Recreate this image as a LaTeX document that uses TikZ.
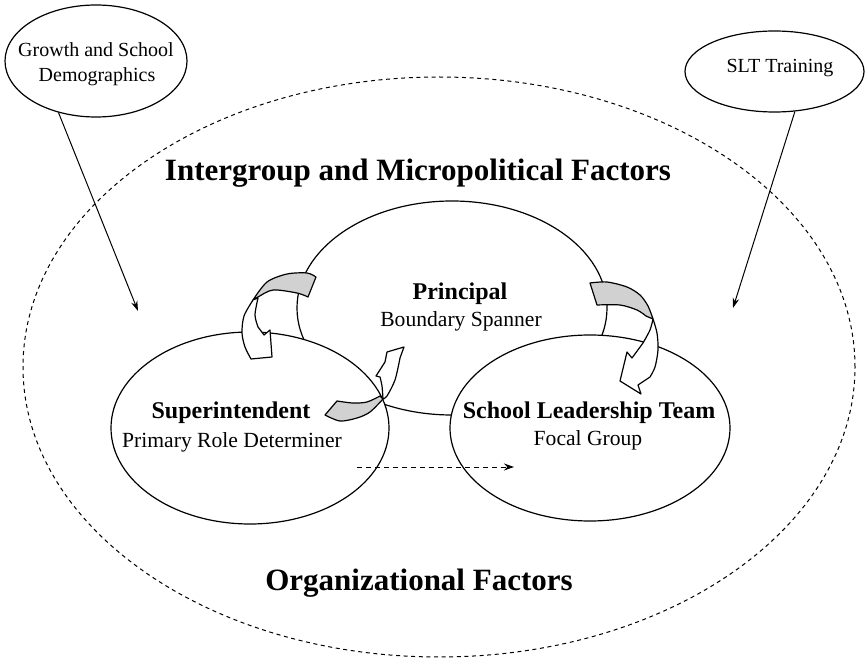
\documentclass[tikz,border=0pt]{standalone}
\usepackage{fontspec}
\setmainfont{Liberation Serif}
\usetikzlibrary{shapes.geometric, arrows.meta}
\begin{document}
\begin{tikzpicture}[x=0.5pt, y=-0.5pt,
  oval/.style={ellipse, draw, line width=0.6pt, inner sep=0pt},
  ribbonfront/.style={draw, line width=0.6pt, line join=round, fill=white},
  ribbonback/.style={draw, line width=0.6pt, line join=round, fill=black!18},
  headtext/.style={font=\fontsize{15.5}{18}\selectfont\bfseries, anchor=base, inner sep=0pt},
  roletext/.style={font=\fontsize{12}{14}\selectfont\bfseries, anchor=base, inner sep=0pt},
  subtext/.style={font=\fontsize{10.8}{13}\selectfont, anchor=base, inner sep=0pt},
  ovaltext/.style={font=\fontsize{10}{12}\selectfont, anchor=base, inner sep=0pt},
  influence/.style={line width=0.5pt, -{Stealth[length=5pt, width=3.2pt]}}
]
\fill[white] (0,0) rectangle (868,663);
\useasboundingbox (0,0) rectangle (868,663);

% organizational context
\node[oval, line width=0.5pt, dash pattern=on 2pt off 1.8pt,
      minimum width=416pt, minimum height=290pt] (org) at (439,367) {};

% principal (boundary spanner), partly covered by the two groups below
\node[oval, minimum width=155pt, minimum height=107pt] (principal) at (452,308) {};

% superintendent and school leadership team
\node[oval, fill=white, minimum width=139pt, minimum height=96pt] (superint) at (250,428) {};
\node[oval, fill=white, minimum width=140pt, minimum height=93pt] (slt) at (590,428) {};

% outside influences
\node[oval, minimum width=91pt, minimum height=56pt] (growth) at (96,61) {};
\node[oval, minimum width=89.5pt, minimum height=40.5pt] (sittrain) at (774.5,71.5) {};

\coordinate (growthtip) at (138,311);
\coordinate (sittip) at (733,308);
\draw[influence] (growth.234) -- (growthtip);
\draw[influence] (sittrain.297) -- (sittip);

% curved arrow: principal -> superintendent
\draw[ribbonback] plot[smooth] coordinates {(253,300) (267,282) (287,274) (307,273) (316,277)}
  -- plot[smooth] coordinates {(308,297) (297,293) (273,290) (258,297) (253,300)} -- cycle;
\draw[ribbonfront] plot[smooth] coordinates {(253,300) (244,316) (242,333) (245,347) (251,359)}
  -- (272,357) -- (270,330) -- (264,335)
  -- plot[smooth] coordinates {(258,327) (255,315) (258,298)} -- cycle;

% curved arrow: principal -> school leadership team
\draw[ribbonback] plot[smooth] coordinates {(590,283) (607,282) (627,287) (640,295) (648,306) (653,319)}
  -- plot[smooth] coordinates {(646,316) (637,310) (620,305) (597,305)} -- cycle;
\draw[ribbonfront] plot[smooth] coordinates {(653,319) (657,333) (658,350) (655,367) (650,377)}
  -- (638,385) -- (641,394) -- (620,381) -- (627,352) -- (632,358)
  -- plot[smooth] coordinates {(643,343) (650,330) (653,319)} -- cycle;

% curved arrow: superintendent -> principal
\draw[ribbonback] plot[smooth] coordinates {(325,415) (340,421) (357,418) (370,412) (383,399)}
  -- plot[smooth] coordinates {(380,396) (367,402) (353,403) (337,401)} -- cycle;
\draw[ribbonfront] plot[smooth] coordinates {(383,399) (382,386) (380,377)}
  -- (376,376) -- (385,362) -- (387,352) -- (404,347)
  -- plot[smooth] coordinates {(400,358) (395,380) (387,396) (383,399)} -- cycle;

% dashed link: superintendent -> school leadership team
\coordinate (dashfrom) at (357,467);
\coordinate (dashto) at (514,467);
\draw[line width=0.5pt, dash pattern=on 2.5pt off 2pt, -{Stealth[length=5pt, width=3.5pt]}] (dashfrom) -- (dashto);

% labels
\node[headtext] (intergroup) at (418,181) {Intergroup and Micropolitical Factors};
\node[headtext] (orglabel) at (419,590) {Organizational Factors};

\node[roletext] (principalname) at (460,300) {Principal};
\node[subtext] (principalrole) at (461,327) {Boundary Spanner};

\node[roletext] (superintname) at (231,418) {Superintendent};
\node[subtext] (superintrole) at (232,447) {Primary Role Determiner};

\node[roletext] (sltname) at (589,418) {School Leadership Team};
\node[subtext] (sltrole) at (588,445) {Focal Group};

\node[ovaltext] (growthline1) at (96,57) {Growth and School};
\node[ovaltext] (growthline2) at (97,82) {Demographics};
\node[ovaltext] (sitlabel) at (780,73) {SLT Training};
\end{tikzpicture}
\end{document}
